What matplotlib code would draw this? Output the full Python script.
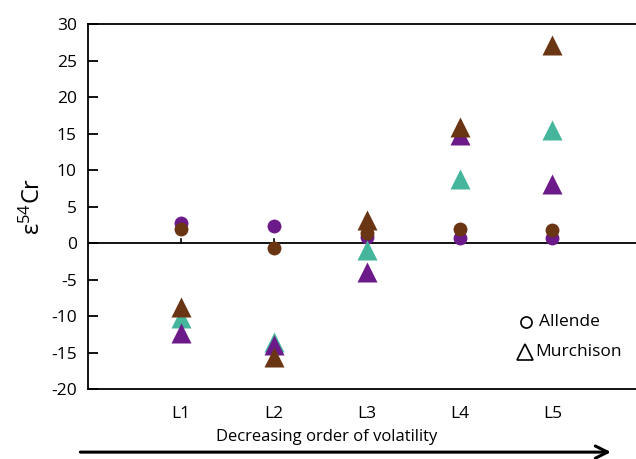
import matplotlib
matplotlib.use("Agg")
import matplotlib.pyplot as plt

plt.rcParams['font.family'] = ['Open Sans', 'DejaVu Sans']
plt.rcParams['axes.unicode_minus'] = False

# volatility groups, most volatile first
levels = ["L1", "L2", "L3", "L4", "L5"]

# Allende (circles)
allende_purple = [2.7, 2.3, 0.8, 0.7, 0.7]
allende_brown = [1.9, -0.7, 1.4, 1.9, 1.8]

# Murchison (triangles)
murch_purple = [-12.3, -14.0, -4.0, 14.8, 8.1]
murch_teal = [-10.3, -13.6, -0.9, 8.8, 15.5]
murch_brown = [-8.8, -15.6, 3.1, 15.9, 27.1]

purple = "#6c1a8a"
teal = "#45b59b"
brown = "#6a3513"

fig = plt.figure(figsize=(6.36, 4.59), dpi=100)
ax = fig.add_axes([0.1384, 0.1525, 0.8616, 0.7952])

xs = list(range(1, len(levels) + 1))

ax.axhline(0, color="black", lw=1.3, zorder=1)
for x in xs:
    ax.plot([x, x], [0, 0.6], color="black", lw=1.2, zorder=1)

ax.plot(xs, allende_purple, "o", color=purple, ms=10, mec="none", zorder=3)
ax.plot(xs, allende_brown, "o", color=brown, ms=10, mec="none", zorder=3)
ax.plot(xs, murch_teal, "^", color=teal, ms=15, mec="none", zorder=4)
ax.plot(xs, murch_purple, "^", color=purple, ms=15, mec="none", zorder=4)
ax.plot(xs, murch_brown, "^", color=brown, ms=15, mec="none", zorder=5)

ax.set_xlim(0, 5.9)
ax.set_ylim(-20, 30)
ax.set_yticks(range(-20, 31, 5))
ax.set_xticks(xs)
ax.set_xticklabels(levels)
ax.tick_params(axis="y", direction="in", length=7, width=1.3, labelsize=12.5, pad=8)
ax.tick_params(axis="x", length=0, labelsize=12.5, pad=12)

for side in ["left", "top", "bottom"]:
    ax.spines[side].set_linewidth(1.3)
ax.spines["right"].set_visible(False)

ax.set_ylabel(r"$\mathregular{\epsilon^{54}}$Cr", fontsize=17, labelpad=4)

# marker key
ax.plot([4.72], [-10.8], "o", mfc="none", mec="black", ms=8, mew=1.2)
ax.text(4.86, -10.8, "Allende", fontsize=12.5, va="center")
ax.plot([4.71], [-14.9], "^", mfc="none", mec="black", ms=12, mew=1.2)
ax.text(4.82, -14.9, "Murchison", fontsize=12.5, va="center")

# volatility arrow below the axis
fig.text(0.513, 0.048, "Decreasing order of volatility", fontsize=12,
         ha="center", va="center")
ax.annotate("", xy=(0.965, 0.015), xytext=(0.122, 0.015), xycoords="figure fraction",
            arrowprops=dict(arrowstyle="->", lw=2.2, color="black", mutation_scale=22))

fig.savefig("out.png", dpi=100)
